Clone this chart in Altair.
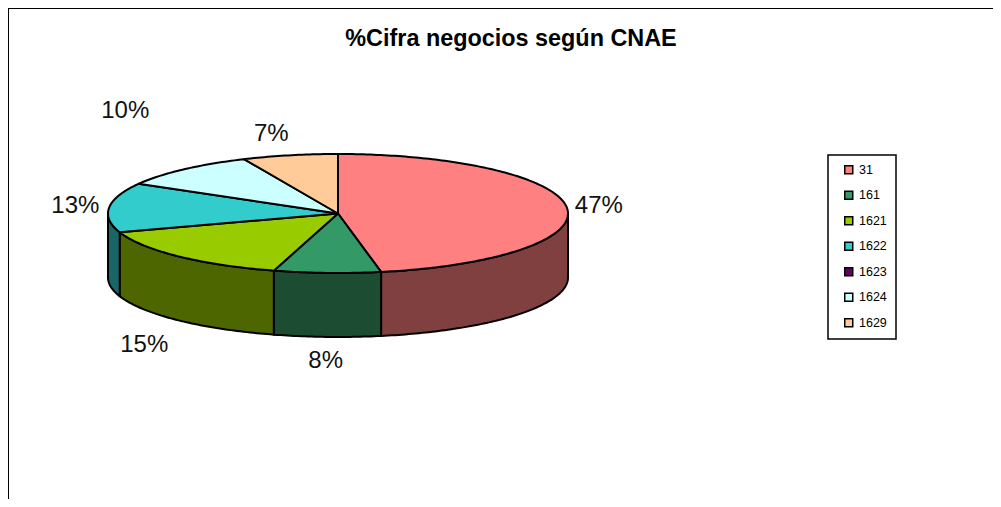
import math
import altair as alt

# Values
CNAE = ["31", "161", "1621", "1622", "1623", "1624", "1629"]
SHARE = [47.0, 7.5, 15.4, 13.4, 0.0, 10.0, 6.7]
TOP_COLORS = ["#FF8080", "#339966", "#99CC00", "#33CCCC", "#660066", "#CCFFFF", "#FFCC99"]
SIDE_COLORS = ["#804040", "#1C4D33", "#4D6600", "#1A6666", "#330033", "#668080", "#80664D"]

W, H = 985, 491
CX, CY, RX, RY, DEPTH = 330.0, 205.5, 230.0, 59.5, 64.0
LABEL_NUDGE = {"1624": (-37, -41), "1621": (-12, 8), "161": (0, 1), "31": (0, 0), "1622": (-2, 1), "1629": (-12, 2)}


def pt(pct, drop=0.0):
    a = 2 * math.pi * pct / 100
    return [CX + RX * math.sin(a), CY - RY * math.cos(a) + drop]


def arc(a, b):
    n = max(2, int(abs(b - a) * 4) + 2)
    return [a + (b - a) * i / (n - 1) for i in range(n)]


def feature(ring, **props):
    return {"type": "Feature", "properties": props,
            "geometry": {"type": "Polygon", "coordinates": [ring + [ring[0]]]}}


tops, sides, labels = [], [], []
start = 0.0
for name, share, side in zip(CNAE, SHARE, SIDE_COLORS):
    end = start + share
    if share > 0:
        steps = arc(start, end)
        tops.append(feature([[CX, CY]] + [pt(p) for p in steps], cnae=name))
        lo, hi = max(start, 25.0), min(end, 75.0)
        if hi > lo:
            front = arc(lo, hi)
            ring = [pt(p) for p in front] + [pt(p, DEPTH) for p in reversed(front)]
            sides.append(feature(ring, side=side))
        mid = 2 * math.pi * (start + end) / 200
        cs = math.cos(mid)
        nx, ny = LABEL_NUDGE.get(name, (0, 0))
        labels.append({
            "x": CX + 262 * math.sin(mid) + nx,
            "y": CY - 83 * cs + (DEPTH if cs < 0 else 0) + ny,
            "label": f"{round(share)}%",
        })
    start = end


def geo(features):
    return alt.Data(values={"type": "FeatureCollection", "features": features},
                    format=alt.DataFormat(type="json", property="features"))


side_layer = alt.Chart(geo(sides)).mark_geoshape(stroke="black", strokeWidth=2, strokeJoin="round").encode(
    fill=alt.Fill("properties.side:N", scale=None, legend=None)
).project(type="identity", scale=1, translate=[0, 0])

top_layer = alt.Chart(geo(tops)).mark_geoshape(stroke="black", strokeWidth=2, strokeJoin="round").encode(
    fill=alt.Fill(
        "properties.cnae:N",
        scale=alt.Scale(domain=CNAE, range=TOP_COLORS),
        legend=alt.Legend(
            title=None, orient="none", legendX=820, legendY=147,
            symbolType="square", symbolSize=64, symbolStrokeColor="black", symbolStrokeWidth=1.5,
            symbolOffset=6,
            labelFont="Liberation Sans", labelFontSize=12.5, labelColor="black",
            rowPadding=10.5, padding=8.5, strokeColor="black", labelOffset=4, offset=0,
        ),
    )
).project(type="identity", scale=1, translate=[0, 0])

text_layer = alt.Chart(alt.Data(values=labels)).mark_text(
    font="Liberation Sans", fontSize=24, color="#111111"
).encode(
    x=alt.X("x:Q", scale=None, axis=None),
    y=alt.Y("y:Q", scale=None, axis=None),
    text="label:N",
)

left_edge = alt.Chart(alt.Data(values=[{"a": 0}])).mark_rule(color="black", strokeWidth=2).encode(
    x=alt.value(0), y=alt.value(0), y2=alt.value(H)
)
top_edge = alt.Chart(alt.Data(values=[{"a": 0}])).mark_rule(color="black", strokeWidth=2).encode(
    y=alt.value(0), x=alt.value(0), x2=alt.value(W)
)

chart = alt.layer(side_layer, top_layer, text_layer, left_edge, top_edge).resolve_scale(
    fill="independent"
).properties(
    width=W, height=H, padding=0,
    autosize=alt.AutoSizeParams(type="none"),
    title=alt.TitleParams(
        "%Cifra negocios según CNAE", anchor="middle", frame="group",
        font="Liberation Sans", fontSize=23.4, fontWeight="bold", color="black",
        dx=10.5, dy=44, offset=0,
    ),
).configure_view(strokeWidth=0).configure_legend(strokeWidth=1.5)

chart.save("out.html", embed_options={"renderer": "svg", "actions": False})
